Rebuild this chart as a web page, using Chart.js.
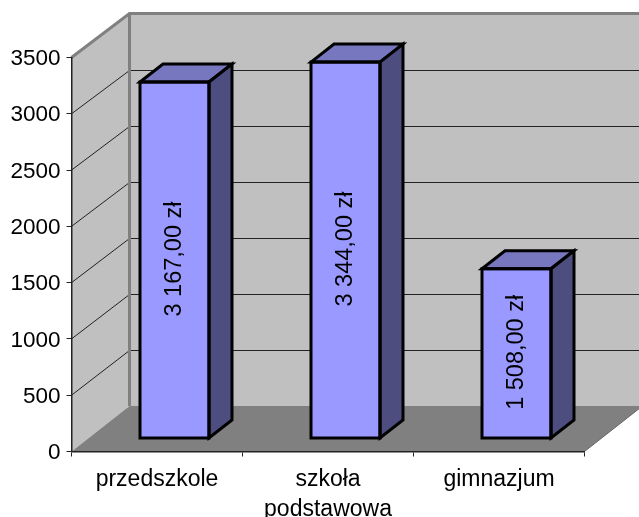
<!DOCTYPE html>
<html>
<head>
<meta charset="utf-8">
<style>html,body{margin:0;padding:0;background:#fff}canvas{display:block}</style>
<script src="https://cdn.jsdelivr.net/npm/chart.js@4"></script>
</head>
<body>
<div style="width:639px;height:517px"><canvas id="c" width="639" height="517"></canvas></div>
<script>
const categories = [["przedszkole"], ["szkoła", "podstawowa"], ["gimnazjum"]];
const values = [3167, 3344, 1508];
const valueLabels = ["3 167,00 zł", "3 344,00 zł", "1 508,00 zł"];
const yTicks = [0, 500, 1000, 1500, 2000, 2500, 3000, 3500];

const FONT = '"Liberation Sans", Arial, sans-serif';
const WALL = {dx: 58, dy: -44, squeeze: 392.5 / 394};
const BAR = {dx: 23, dy: -18, ox: 17.5, oy: -13};

const box3d = {
  id: 'box3d',
  beforeDraw(chart) {
    const {ctx, chartArea: a, scales: {y}} = chart;
    y.getLabelItems(a).forEach(it => { it.options.translation[1] += 1.5; });
    const L = a.left, B = y.getPixelForValue(0), T = y.getPixelForValue(3500), R = a.right;
    const ty = T + WALL.dy, bx = L + WALL.dx, rx = R + WALL.dx;
    const back = p => ty + (p - T) * WALL.squeeze;
    const by = back(B);
    ctx.save();
    ctx.fillStyle = '#c0c0c0';
    ctx.beginPath();
    ctx.moveTo(L, B); ctx.lineTo(L, T); ctx.lineTo(bx, ty); ctx.lineTo(rx, ty);
    ctx.lineTo(rx, by); ctx.lineTo(bx, by); ctx.closePath(); ctx.fill();
    ctx.fillStyle = '#808080';
    ctx.beginPath();
    ctx.moveTo(L, B); ctx.lineTo(bx, by); ctx.lineTo(rx, by); ctx.lineTo(R, B); ctx.closePath(); ctx.fill();
    // grid lines
    ctx.strokeStyle = '#222'; ctx.lineWidth = 1;
    yTicks.slice(1, -1).forEach(v => {
      const p = y.getPixelForValue(v), q = Math.round(back(p)) + 0.5;
      ctx.beginPath();
      ctx.moveTo(L, p); ctx.lineTo(bx, q); ctx.lineTo(rx, q);
      ctx.stroke();
    });
    // floor right edge
    ctx.strokeStyle = '#666';
    ctx.beginPath(); ctx.moveTo(R, B); ctx.lineTo(rx, by); ctx.stroke();
    // wall frame
    ctx.strokeStyle = '#808080'; ctx.lineWidth = 3;
    ctx.beginPath();
    ctx.moveTo(L, T); ctx.lineTo(bx, ty); ctx.lineTo(rx, ty); ctx.stroke();
    ctx.beginPath(); ctx.moveTo(bx, ty); ctx.lineTo(bx, by); ctx.stroke();
    ctx.restore();
  },
  beforeDatasetDraw(chart) {
    chart.ctx.save();
    chart.ctx.translate(BAR.ox, BAR.oy);
  },
  afterDatasetDraw(chart, args) {
    const ctx = chart.ctx;
    ctx.restore();
    ctx.save();
    ctx.translate(BAR.ox, BAR.oy);
    ctx.lineJoin = 'miter'; ctx.lineWidth = 3; ctx.strokeStyle = '#000';
    args.meta.data.forEach((el, i) => {
      const l = el.x - el.width / 2, r = el.x + el.width / 2, t = el.y, b = el.base;
      ctx.fillStyle = '#7777bf';
      ctx.beginPath();
      ctx.moveTo(l, t); ctx.lineTo(l + BAR.dx, t + BAR.dy); ctx.lineTo(r + BAR.dx, t + BAR.dy); ctx.lineTo(r, t); ctx.closePath();
      ctx.fill(); ctx.stroke();
      ctx.fillStyle = '#4d4d80';
      ctx.beginPath();
      ctx.moveTo(r, t); ctx.lineTo(r + BAR.dx, t + BAR.dy); ctx.lineTo(r + BAR.dx, b + BAR.dy); ctx.lineTo(r, b); ctx.closePath();
      ctx.fill(); ctx.stroke();
      ctx.strokeRect(l, t, r - l, b - t);
      ctx.save();
      ctx.translate(el.x - 1, (t + b) / 2 - 1);
      ctx.rotate(-Math.PI / 2);
      ctx.fillStyle = '#000';
      ctx.font = '23.5px ' + FONT;
      ctx.textAlign = 'center'; ctx.textBaseline = 'middle';
      ctx.fillText(valueLabels[i], 0, 1);
      ctx.restore();
    });
    ctx.restore();
  }
};

new Chart(document.getElementById('c'), {
  type: 'bar',
  data: {
    labels: categories,
    datasets: [{data: values, backgroundColor: '#9999ff', borderWidth: 0, barThickness: 69, clip: false}]
  },
  options: {
    responsive: false,
    animation: false,
    layout: {padding: {left: 0, right: 54.5, top: 57.5, bottom: 0}},
    plugins: {legend: {display: false}, title: {display: false}, tooltip: {enabled: false}},
    scales: {
      x: {
        afterFit(s) { s.height = 65.5; },
        grid: {drawOnChartArea: false, drawTicks: true, tickLength: 5, tickColor: '#222', offset: true},
        border: {color: '#222', width: 1.5},
        ticks: {color: '#000', font: {family: FONT, size: 23, lineHeight: 1.27}, padding: 9, maxRotation: 0, minRotation: 0, autoSkip: false}
      },
      y: {
        min: 0, max: 3500,
        afterFit(s) { s.width = 71.5; },
        afterBuildTicks(s) { s.ticks = yTicks.map(v => ({value: v})); },
        grid: {drawOnChartArea: false, drawTicks: true, tickLength: 5, tickColor: '#222'},
        border: {color: '#222', width: 1.5},
        ticks: {color: '#000', font: {family: FONT, size: 22.5}, padding: 6, callback: v => String(v)}
      }
    }
  },
  plugins: [box3d]
});
</script>
</body>
</html>
